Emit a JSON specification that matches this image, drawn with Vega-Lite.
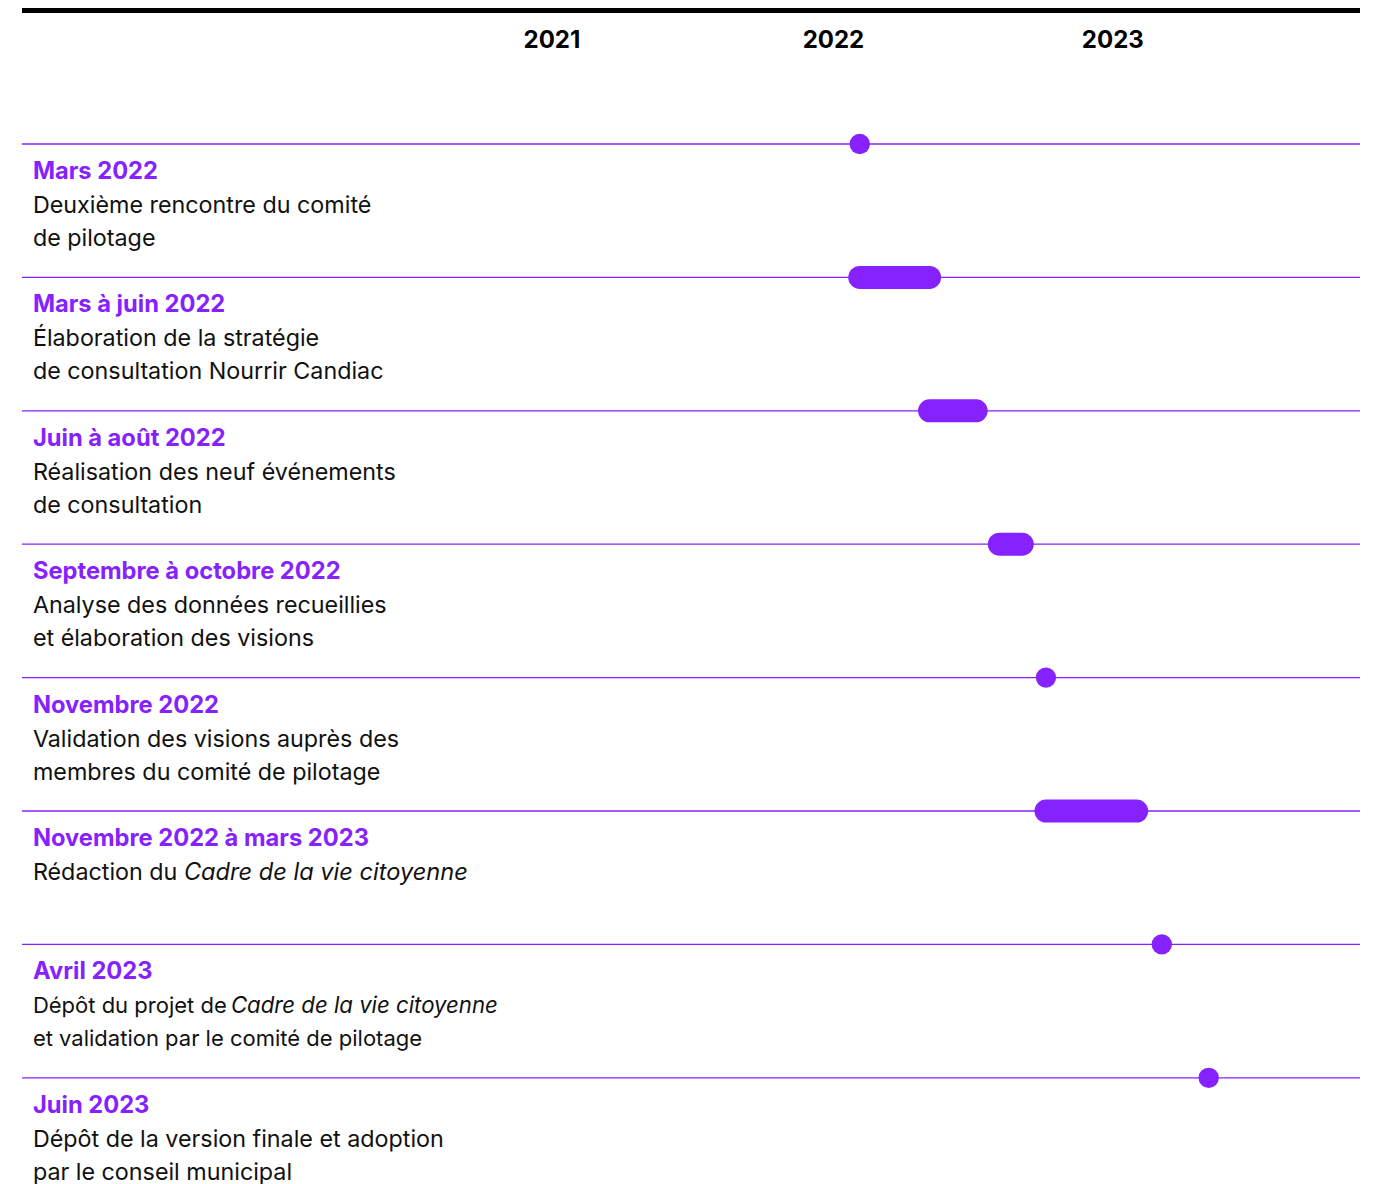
{
  "$schema": "https://vega.github.io/schema/vega-lite/v6.json",
  "width": 1338,
  "height": 1184,
  "autosize": {"type": "none"},
  "padding": {"left": 22, "right": 15, "top": 0, "bottom": 0},
  "background": "white",
  "config": {"view": {"stroke": null}, "text": {"font": "Inter"}},
  "datasets": {
    "events": [
      {"row": 0, "title": "Mars 2022", "l1": "Deuxième rencontre du comité", "l2": "de pilotage", "start": 2022.208, "end": null},
      {"row": 1, "title": "Mars à juin 2022", "l1": "Élaboration de la stratégie", "l2": "de consultation Nourrir Candiac", "start": 2022.208, "end": 2022.458},
      {"row": 2, "title": "Juin à août 2022", "l1": "Réalisation des neuf événements", "l2": "de consultation", "start": 2022.458, "end": 2022.625},
      {"row": 3, "title": "Septembre à octobre 2022", "l1": "Analyse des données recueillies", "l2": "et élaboration des visions", "start": 2022.708, "end": 2022.79},
      {"row": 4, "title": "Novembre 2022", "l1": "Validation des visions auprès des", "l2": "membres du comité de pilotage", "start": 2022.875, "end": null},
      {"row": 5, "title": "Novembre 2022 à mars 2023", "l1": "Rédaction du", "l2": "", "start": 2022.875, "end": 2023.2},
      {"row": 6, "title": "Avril 2023", "l1": "Dépôt du projet de", "l2": "et validation par le comité de pilotage", "start": 2023.29, "end": null},
      {"row": 7, "title": "Juin 2023", "l1": "Dépôt de la version finale et adoption", "l2": "par le conseil municipal", "start": 2023.458, "end": null}
    ],
    "top": [{"row": -1}],
    "years": [{"year": 2021, "row": -1}, {"year": 2022, "row": -1}, {"year": 2023, "row": -1}],
    "italics": [
      {"row": 5, "text": "Cadre de la vie citoyenne"},
      {"row": 6, "text": "Cadre de la vie citoyenne"}
    ]
  },
  "data": {"name": "events"},
  "encoding": {
    "y": {"field": "row", "type": "quantitative", "axis": null, "scale": {"domain": [-1.0795, 7.796], "reverse": true, "nice": false, "zero": false}}
  },
  "layer": [
    {
      "data": {"name": "top"},
      "mark": {"type": "rule", "color": "#000000", "strokeWidth": 5}
    },
    {
      "mark": {"type": "rule", "color": "#8621ff", "strokeWidth": 1.3}
    },
    {
      "transform": [{"filter": "datum.end != null"}],
      "mark": {"type": "rule", "color": "#8621ff", "strokeWidth": 23, "strokeCap": "round"},
      "encoding": {
        "x": {"field": "start", "type": "quantitative", "axis": null, "scale": {"domain": [2019.207, 2024.0], "nice": false, "zero": false}},
        "x2": {"field": "end"}
      }
    },
    {
      "transform": [{"filter": "datum.end == null"}],
      "mark": {"type": "point", "filled": true, "color": "#8621ff", "size": 415, "opacity": 1, "shape": "circle"},
      "encoding": {
        "x": {"field": "start", "type": "quantitative"}
      }
    },
    {
      "data": {"name": "years"},
      "mark": {"type": "text", "align": "left", "baseline": "middle", "dy": 30, "dx": 1, "fontSize": 24, "fontWeight": "bold", "color": "#000000"},
      "encoding": {
        "x": {"field": "year", "type": "quantitative"},
        "text": {"field": "year", "type": "nominal"}
      }
    },
    {
      "mark": {"type": "text", "align": "left", "baseline": "middle", "dy": 28, "fontSize": 23.7, "fontWeight": "bold", "color": "#8621ff"},
      "encoding": {
        "x": {"datum": 2019.246, "type": "quantitative"},
        "text": {"field": "title"}
      }
    },
    {
      "transform": [{"filter": "datum.row != 6"}],
      "mark": {"type": "text", "align": "left", "baseline": "middle", "dy": 62, "fontSize": 23.3, "color": "#111111"},
      "encoding": {
        "x": {"datum": 2019.246, "type": "quantitative"},
        "text": {"field": "l1"}
      }
    },
    {
      "transform": [{"filter": "datum.row != 6"}],
      "mark": {"type": "text", "align": "left", "baseline": "middle", "dy": 95, "fontSize": 23.3, "color": "#111111"},
      "encoding": {
        "x": {"datum": 2019.246, "type": "quantitative"},
        "text": {"field": "l2"}
      }
    },
    {
      "transform": [{"filter": "datum.row == 6"}],
      "mark": {"type": "text", "align": "left", "baseline": "middle", "dy": 62, "fontSize": 22, "color": "#111111"},
      "encoding": {
        "x": {"datum": 2019.246, "type": "quantitative"},
        "text": {"field": "l1"}
      }
    },
    {
      "transform": [{"filter": "datum.row == 6"}],
      "mark": {"type": "text", "align": "left", "baseline": "middle", "dy": 95, "fontSize": 22, "color": "#111111"},
      "encoding": {
        "x": {"datum": 2019.246, "type": "quantitative"},
        "text": {"field": "l2"}
      }
    },
    {
      "data": {"name": "italics"},
      "transform": [{"filter": "datum.row == 5"}],
      "mark": {"type": "text", "align": "left", "baseline": "middle", "dy": 62, "dx": 151, "fontSize": 23.6, "fontStyle": "italic", "color": "#111111"},
      "encoding": {
        "x": {"datum": 2019.246, "type": "quantitative"},
        "text": {"field": "text"}
      }
    },
    {
      "data": {"name": "italics"},
      "transform": [{"filter": "datum.row == 6"}],
      "mark": {"type": "text", "align": "left", "baseline": "middle", "dy": 62, "dx": 198, "fontSize": 22.2, "fontStyle": "italic", "color": "#111111"},
      "encoding": {
        "x": {"datum": 2019.246, "type": "quantitative"},
        "text": {"field": "text"}
      }
    }
  ]
}
